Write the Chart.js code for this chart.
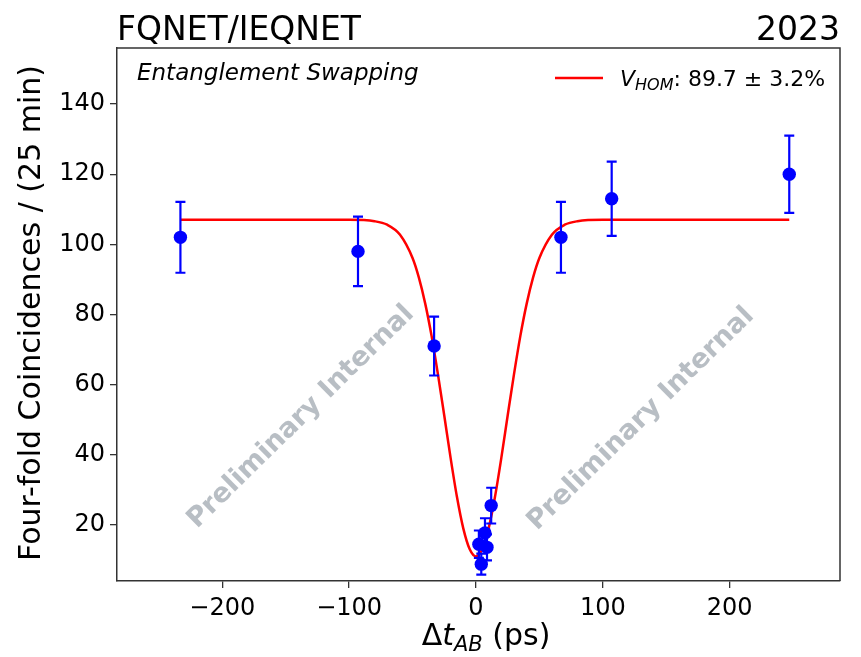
<!DOCTYPE html>
<html>
<head>
<meta charset="utf-8">
<script src="https://cdn.jsdelivr.net/npm/chart.js@4.4.1/dist/chart.umd.min.js"></script>
<style>
  html, body { margin: 0; padding: 0; background: #fff; }
</style>
</head>
<body>
<canvas id="hom" width="861" height="657"></canvas>
<script>
// measured points (delay in ps, four-fold counts per 25 min, poisson error)
const delayPs = [-233, -93, -33, 2.3, 4.2, 7.1, 8.7, 12, 67, 107, 247];
const counts = [102, 98, 71, 14.5, 8.8, 17.7, 13.6, 25.5, 102, 113, 120];
const countErr = [10.1, 9.9, 8.4, 3.9, 3, 4.2, 3.7, 5.1, 10.1, 10.6, 11];

// fitted HOM dip
const fitDelay = [-233, -100, -80, -70, -60, -50, -45, -40, -35, -30, -25, -20, -15, -10, -5, 0,
                  5, 10, 15, 20, 25, 30, 35, 40, 45, 50, 60, 70, 80, 100, 247];
const fitCounts = [107, 107, 106.6, 105.6, 102.8, 96.1, 90.5, 83.1, 73.9, 63.0, 51.2, 39.1, 28.0, 19.0, 13.1, 11.0,
                   13.1, 19.0, 28.0, 39.1, 51.2, 63.0, 73.9, 83.1, 90.5, 96.1, 102.8, 105.6, 106.6, 107, 107];

const xTicks = [-200, -100, 0, 100, 200];
const yTicks = [20, 40, 60, 80, 100, 120, 140];

const FONT = '"DejaVu Sans"';
const fmt = v => (v < 0 ? '\u2212' + Math.abs(v) : String(v));

const points = delayPs.map((d, i) => ({ x: d, y: counts[i] }));
const fit = fitDelay.map((d, i) => ({ x: d, y: fitCounts[i] }));

const extras = {
  id: 'extras',
  beforeDatasetsDraw(chart) {
    const ctx = chart.ctx;
    ctx.save();
    ctx.fillStyle = 'rgba(160,168,176,0.75)';
    ctx.font = 'bold 27px ' + FONT;
    ctx.textAlign = 'center';
    ctx.textBaseline = 'middle';
    [[301, 417], [641, 419]].forEach(([cx, cy]) => {
      ctx.save();
      ctx.translate(cx, cy);
      ctx.rotate(-44.5 * Math.PI / 180);
      ctx.fillText('Preliminary Internal', 0, 0);
      ctx.restore();
    });
    ctx.restore();
  },
  afterDatasetsDraw(chart) {
    const ctx = chart.ctx;
    const xs = chart.scales.x, ys = chart.scales.y;
    ctx.save();
    ctx.strokeStyle = '#0000ff';
    ctx.lineWidth = 2.2;
    delayPs.forEach((d, i) => {
      const px = xs.getPixelForValue(d);
      const top = ys.getPixelForValue(counts[i] + countErr[i]);
      const bot = ys.getPixelForValue(counts[i] - countErr[i]);
      ctx.beginPath();
      ctx.moveTo(px, top); ctx.lineTo(px, bot);
      ctx.moveTo(px - 5, top); ctx.lineTo(px + 5, top);
      ctx.moveTo(px - 5, bot); ctx.lineTo(px + 5, bot);
      ctx.stroke();
    });
    ctx.restore();
  },
  afterDraw(chart) {
    const ctx = chart.ctx;
    const a = chart.chartArea;
    ctx.save();
    // top and right spines
    ctx.strokeStyle = '#333';
    ctx.lineWidth = 1.5;
    ctx.beginPath();
    ctx.moveTo(a.left, a.top); ctx.lineTo(a.right, a.top); ctx.lineTo(a.right, a.bottom);
    ctx.stroke();

    ctx.fillStyle = '#000';
    ctx.textBaseline = 'alphabetic';
    // titles
    ctx.font = '33px ' + FONT;
    ctx.textAlign = 'left';
    ctx.fillText('FQNET/IEQNET', a.left, 40);
    ctx.textAlign = 'right';
    ctx.fillText('2023', a.right, 40);

    // annotation
    ctx.textAlign = 'left';
    ctx.font = 'italic 23px ' + FONT;
    ctx.fillText('Entanglement Swapping', 137, 80);

    // legend
    ctx.strokeStyle = '#ff0000';
    ctx.lineWidth = 2.5;
    ctx.beginPath();
    ctx.moveTo(555, 78); ctx.lineTo(603, 78);
    ctx.stroke();
    let lx = 620;
    ctx.font = 'italic 22px ' + FONT;
    ctx.fillText('V', lx, 86);
    lx += ctx.measureText('V').width;
    ctx.font = 'italic 16px ' + FONT;
    ctx.fillText('HOM', lx, 90);
    lx += ctx.measureText('HOM').width;
    ctx.font = '22px ' + FONT;
    ctx.fillText(': 89.7 \u00b1 3.2%', lx, 86);

    // y axis label
    ctx.save();
    ctx.font = '30px ' + FONT;
    ctx.textAlign = 'center';
    ctx.translate(40, 313);
    ctx.rotate(-Math.PI / 2);
    ctx.fillText('Four-fold Coincidences / (25 min)', 0, 0);
    ctx.restore();

    // x axis label: Δt_AB (ps)
    const parts = [
      ['\u0394', '30px ' + FONT, 0],
      ['t', 'italic 30px ' + FONT, 0],
      ['AB', 'italic 21px ' + FONT, 6],
      [' (ps)', '30px ' + FONT, 0]
    ];
    let total = 0;
    parts.forEach(p => { ctx.font = p[1]; total += ctx.measureText(p[0]).width; });
    let tx = 486 - total / 2;
    ctx.textAlign = 'left';
    parts.forEach(p => {
      ctx.font = p[1];
      ctx.fillText(p[0], tx, 645 + p[2]);
      tx += ctx.measureText(p[0]).width;
    });
    ctx.restore();
  }
};

new Chart(document.getElementById('hom'), {
  type: 'scatter',
  data: {
    datasets: [{
      label: 'data',
      data: points,
      pointRadius: 6.7,
      pointBackgroundColor: '#0000ff',
      pointBorderWidth: 0,
      showLine: false
    }, {
      label: 'fit',
      data: fit,
      showLine: true,
      pointRadius: 0,
      borderColor: '#ff0000',
      borderWidth: 2.5,
      cubicInterpolationMode: 'monotone',
      fill: false
    }]
  },
  options: {
    responsive: false,
    animation: false,
    layout: { padding: { top: 48, right: 21, left: 0, bottom: 0 } },
    plugins: { legend: { display: false }, tooltip: { enabled: false } },
    scales: {
      x: {
        type: 'linear',
        min: -283,
        max: 287,
        afterBuildTicks: s => { s.ticks = xTicks.map(v => ({ value: v })); },
        afterFit: s => { s.height = 76; },
        grid: { drawOnChartArea: false, drawTicks: true, tickLength: 7, color: '#333', lineWidth: 1.3 },
        border: { display: true, color: '#333', width: 1.5 },
        ticks: { font: { family: 'DejaVu Sans', size: 24 }, color: '#000', padding: 6, maxRotation: 0, autoSkip: false, callback: fmt }
      },
      y: {
        type: 'linear',
        min: 4,
        max: 156,
        afterBuildTicks: s => { s.ticks = yTicks.map(v => ({ value: v })); },
        afterFit: s => { s.width = 117; },
        grid: { drawOnChartArea: false, drawTicks: true, tickLength: 7, color: '#333', lineWidth: 1.3 },
        border: { display: true, color: '#333', width: 1.5 },
        ticks: { font: { family: 'DejaVu Sans', size: 24 }, color: '#000', padding: 5, autoSkip: false, callback: fmt }
      }
    }
  },
  plugins: [extras]
});
</script>
</body>
</html>
